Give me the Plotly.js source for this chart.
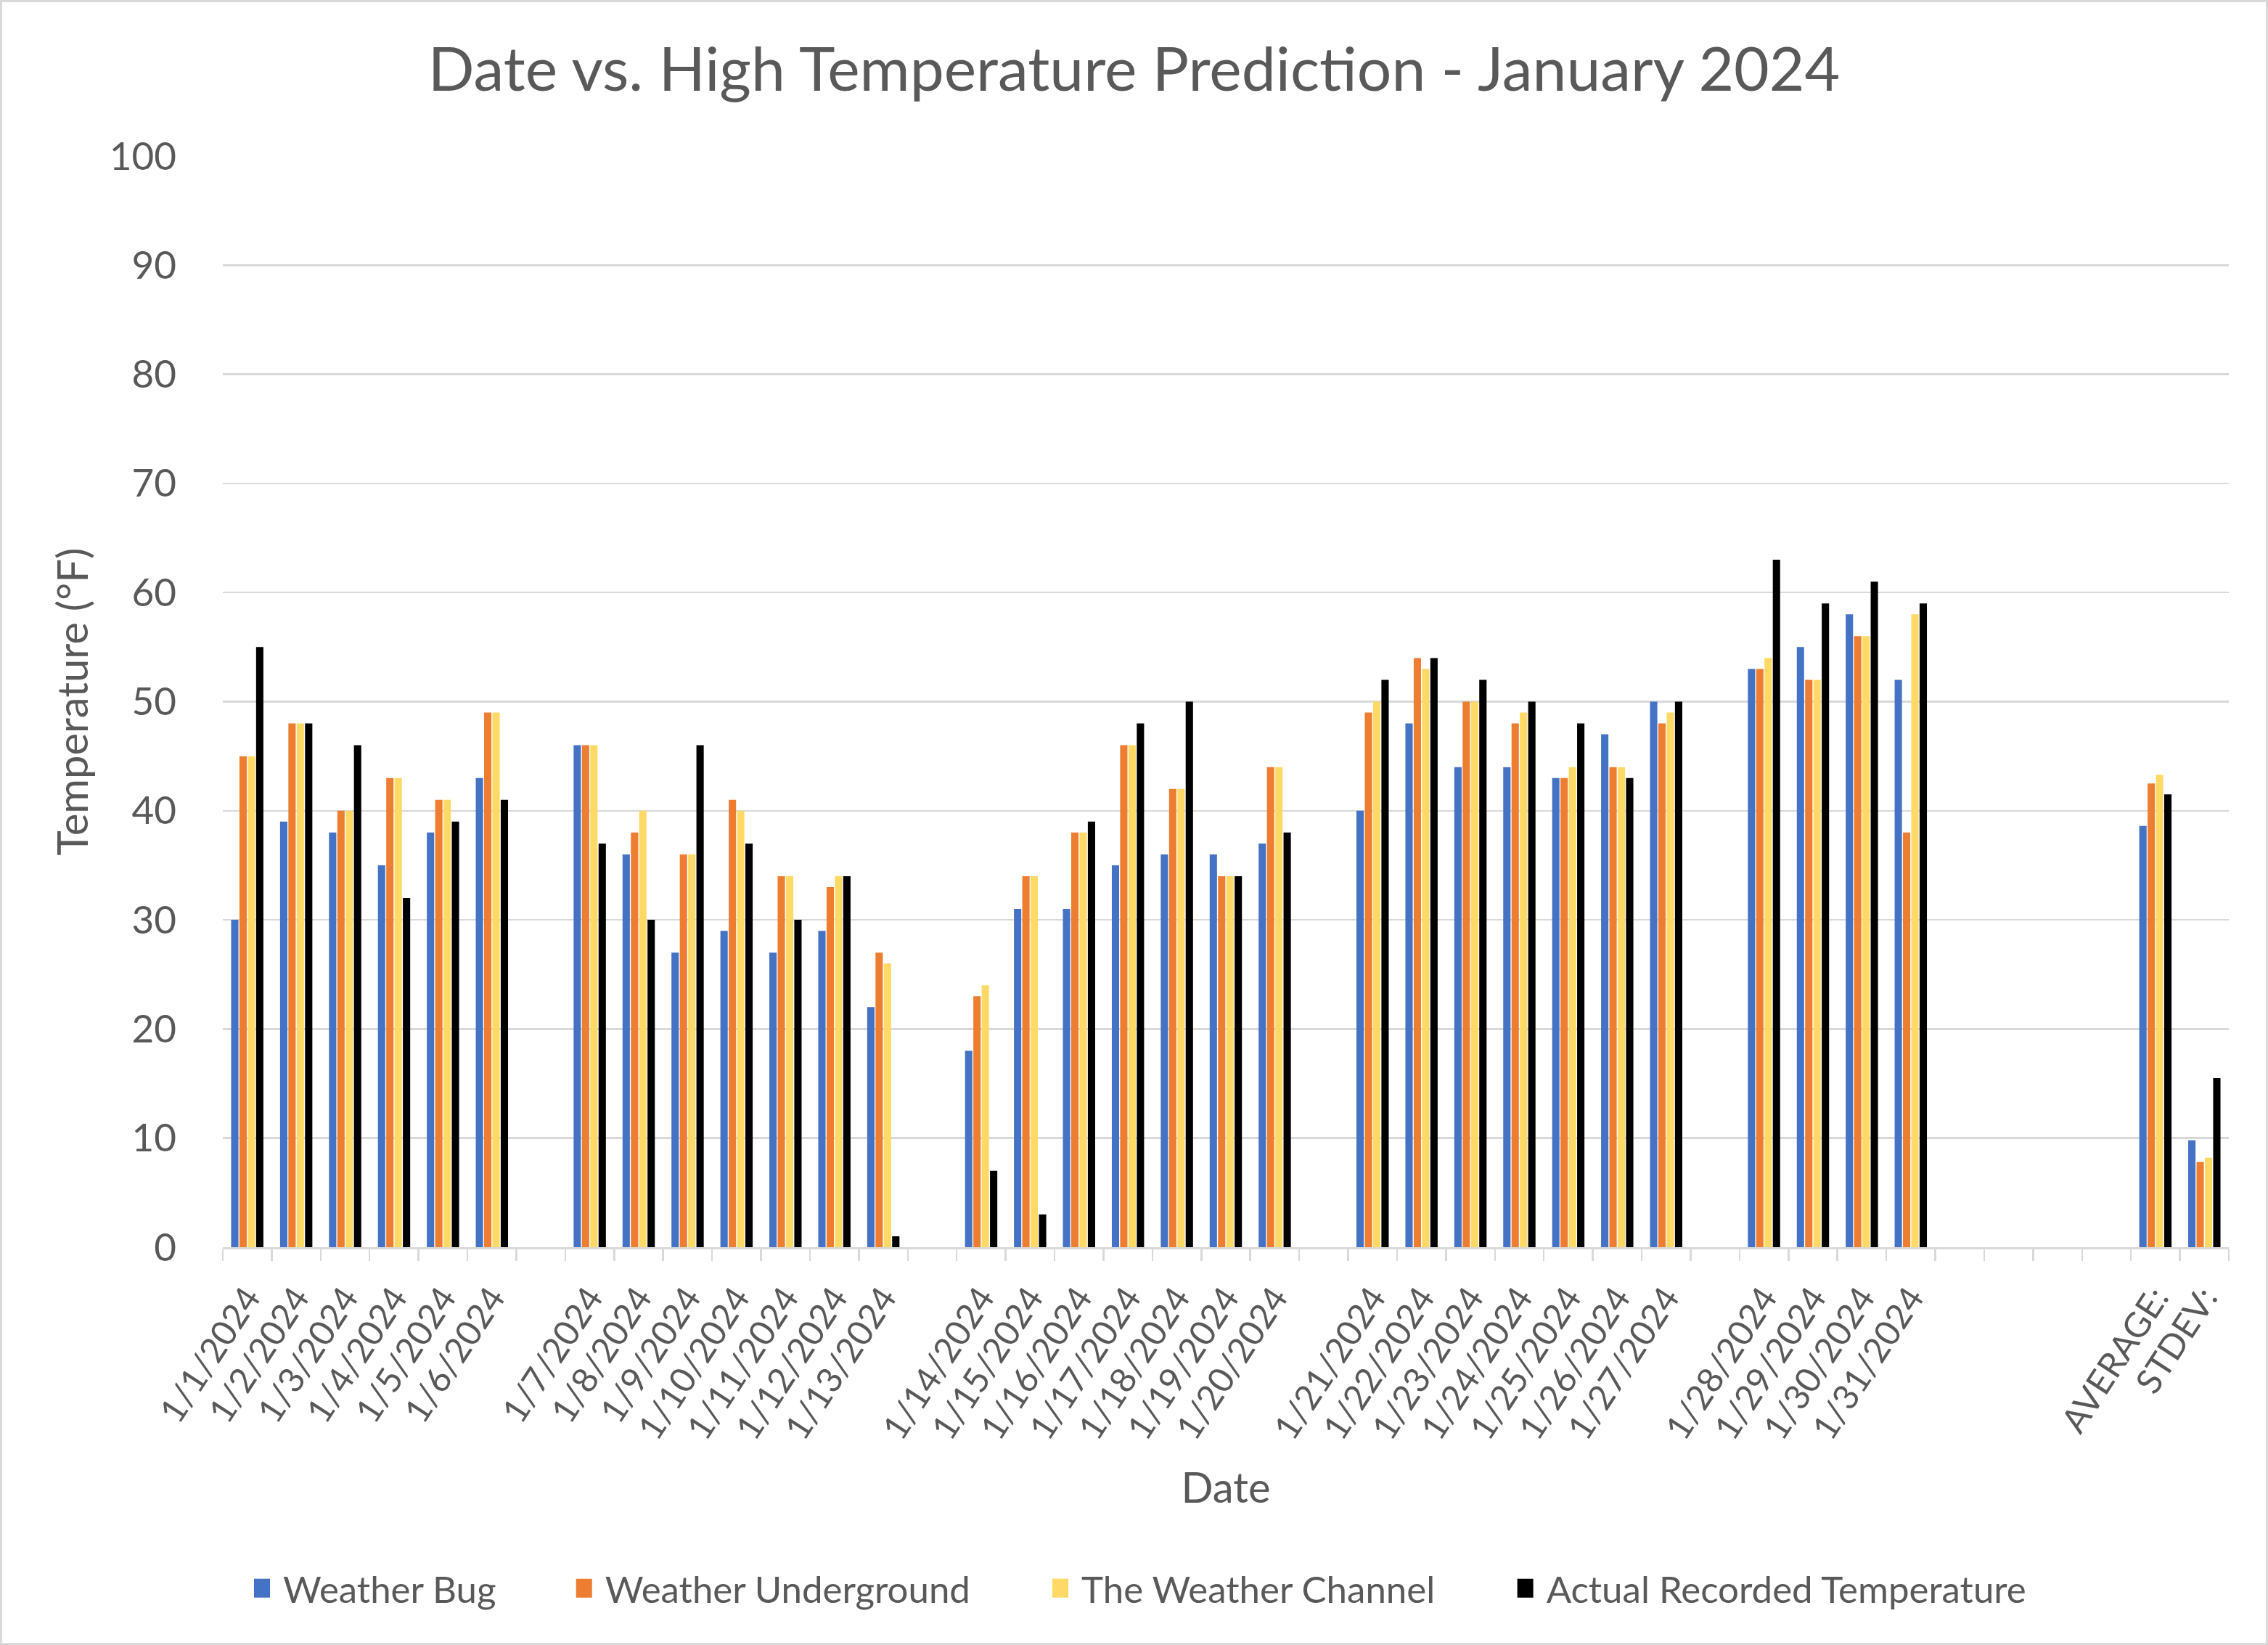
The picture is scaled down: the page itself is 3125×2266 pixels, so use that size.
<!DOCTYPE html>
<html>
<head>
<meta charset="utf-8">
<script src="https://cdn.plot.ly/plotly-3.0.1.min.js"></script>
<style>
  html, body { margin: 0; padding: 0; background: #ffffff; }
  #wrap { position: relative; width: 3125px; height: 2266px; }
  #chart { position: absolute; left: 0; top: 0; width: 3125px; height: 2266px; }
  #frame { position: absolute; left: 0; top: 0; width: 3125px; height: 2266px;
           box-sizing: border-box; border: 3px solid #d9d9d9; pointer-events: none; }
</style>
</head>
<body>
<div id="wrap"><div id="chart"></div><div id="frame"></div></div>
<script>
// Category slots (blank strings are the empty gaps between weeks)
var categories = [
  '1/1/2024','1/2/2024','1/3/2024','1/4/2024','1/5/2024','1/6/2024',' ',
  '1/7/2024','1/8/2024','1/9/2024','1/10/2024','1/11/2024','1/12/2024','1/13/2024','  ',
  '1/14/2024','1/15/2024','1/16/2024','1/17/2024','1/18/2024','1/19/2024','1/20/2024','   ',
  '1/21/2024','1/22/2024','1/23/2024','1/24/2024','1/25/2024','1/26/2024','1/27/2024','    ',
  '1/28/2024','1/29/2024','1/30/2024','1/31/2024','     ','      ','       ','        ',
  'AVERAGE:','STDEV:'
];

var weatherBug = [30,39,38,35,38,43,null, 46,36,27,29,27,29,22,null, 18,31,31,35,36,36,37,null,
  40,48,44,44,43,47,50,null, 53,55,58,52,null,null,null,null, 38.6,9.8];
var weatherUnderground = [45,48,40,43,41,49,null, 46,38,36,41,34,33,27,null, 23,34,38,46,42,34,44,null,
  49,54,50,48,43,44,48,null, 53,52,56,38,null,null,null,null, 42.5,7.8];
var weatherChannel = [45,48,40,43,41,49,null, 46,40,36,40,34,34,26,null, 24,34,38,46,42,34,44,null,
  50,53,50,49,44,44,49,null, 54,52,56,58,null,null,null,null, 43.3,8.2];
var actualTemp = [55,48,46,32,39,41,null, 37,30,46,37,30,34,1,null, 7,3,39,48,50,34,38,null,
  52,54,52,50,48,43,50,null, 63,59,61,59,null,null,null,null, 41.5,15.5];

var seriesNames = ['Weather Bug','Weather Underground','The Weather Channel','Actual Recorded Temperature'];
var seriesValues = [weatherBug, weatherUnderground, weatherChannel, actualTemp];
var seriesColors = ['#4472C4','#ED7D31','#FFD966','#000000'];
var legendIds = ['legend','legend2','legend3','legend4'];
var legendX = [0.112, 0.254, 0.464, 0.669];

var FONT = 'Lato, "Open Sans", sans-serif';
var TXT = '#595959';

var traces = seriesNames.map(function (name, i) {
  return {
    type: 'bar',
    name: name,
    x: categories,
    y: seriesValues[i],
    marker: { color: seriesColors[i] },
    legend: legendIds[i],
    hoverinfo: 'x+y+name'
  };
});

var layout = {
  width: 3125,
  height: 2266,
  paper_bgcolor: '#ffffff',
  plot_bgcolor: '#ffffff',
  margin: { l: 307, r: 54, t: 215, b: 548, autoexpand: false },
  font: { family: FONT, color: TXT, size: 51 },
  title: {
    text: 'Date vs. High Temperature Prediction - January 2024',
    font: { family: FONT, size: 84, color: TXT },
    xref: 'container', x: 0.5, xanchor: 'center',
    yref: 'container', y: 0.958, yanchor: 'middle'
  },
  barmode: 'group',
  bargap: 0.32,
  bargroupgap: 0.12,
  xaxis: {
    type: 'category',
    categoryorder: 'array',
    categoryarray: categories,
    tickson: 'boundaries',
    ticks: 'outside',
    ticklen: 16,
    tickwidth: 2.5,
    tickcolor: '#D9D9D9',
    showline: true,
    linecolor: '#D9D9D9',
    linewidth: 2.5,
    showgrid: false,
    tickangle: -57,
    ticklabelstandoff: 20,
    tickfont: { family: FONT, size: 48, color: TXT },
    automargin: false,
    title: { text: 'Date', font: { family: FONT, size: 58, color: TXT }, standoff: 38 }
  },
  yaxis: {
    range: [0, 100],
    dtick: 10,
    tick0: 0,
    showgrid: true,
    gridcolor: '#D9D9D9',
    gridwidth: 2.5,
    zeroline: false,
    showline: false,
    ticks: '',
    ticklabelstandoff: 63,
    tickfont: { family: FONT, size: 53, color: TXT },
    automargin: false,
    title: { text: 'Temperature (°F)', font: { family: FONT, size: 58, color: TXT }, standoff: 10 }
  },
  showlegend: true
};

legendIds.forEach(function (id, i) {
  layout[id] = {
    orientation: 'h',
    xref: 'container', yref: 'container',
    x: legendX[i], xanchor: 'left',
    y: 0.0344, yanchor: 'middle',
    bgcolor: 'rgba(0,0,0,0)',
    font: { family: FONT, size: 51, color: TXT }
  };
});

Plotly.newPlot('chart', traces, layout, { displayModeBar: false, staticPlot: true }).then(function (gd) {
  // enlarge the legend colour squares to match the reference key size
  gd.querySelectorAll('.legendpoints path').forEach(function (p) {
    p.setAttribute('d', 'M2,13H-24V-13H2Z');
  });
});
</script>
</body>
</html>
